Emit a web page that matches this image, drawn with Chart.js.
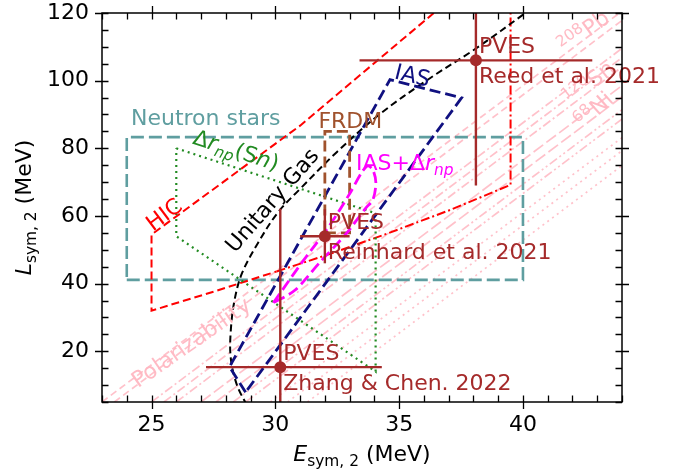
<!DOCTYPE html>
<html>
<head>
<meta charset="utf-8">
<script src="https://cdn.jsdelivr.net/npm/chart.js@4/dist/chart.umd.min.js"></script>
<style>
  html, body { margin: 0; padding: 0; background: #ffffff; }
  #wrap { width: 689px; height: 469px; }
</style>
</head>
<body>
<div id="wrap"><canvas id="c" width="689" height="469"></canvas></div>
<script>
// ---- axis ranges and ticks ----
const xRange = [23, 44];
const yRange = [5, 120];
const xTicks = [25, 30, 35, 40];
const yTicks = [20, 40, 60, 80, 100, 120];
const xMinorStep = 1;
const yMinorStep = 5;

// ---- constraint regions (Esym in MeV, L in MeV) ----
const nsE = [24, 40, 40, 24, 24];
const nsL = [41.1, 41.1, 83.3, 83.3, 41.1];

const hicDashE = [36.4, 31.0, 25.0, 25.0, 27.5, 30.05];
const hicDashL = [120, 86.7, 54.5, 32.0, 37.6, 43.6];
const hicDashDotE = [30.05, 32.3, 34.56, 37.0, 39.5, 39.5];
const hicDashDotL = [43.6, 49.0, 54.9, 61.6, 69.2, 120];

const unitaryE = [28.85, 28.45, 28.2, 28.2, 28.35, 28.65, 29.3, 30.1, 31.0, 32.5, 34.2, 36.2, 38.1, 40.1];
const unitaryL = [4, 10, 18, 26, 35, 43, 52, 61, 68, 79, 90, 100.5, 109.5, 120];

const snE = [26.0, 34.05, 34.05, 26.0, 26.0];
const snL = [80.0, 60.8, 14.0, 54.0, 80.0];

const iasE = [28.8, 28.15, 34.63, 37.52, 28.8];
const iasL = [7.9, 15.4, 100.3, 94.9, 7.9];

const frdmE = [32.0, 33.0, 33.0, 32.0, 32.0];
const frdmL = [55.0, 55.0, 85.0, 85.0, 55.0];

const iasRnpE = [29.92, 31.01, 32.21, 33.02, 33.50, 33.74, 33.94, 34.06, 33.94, 33.66, 32.82, 31.81, 30.80, 29.92];
const iasRnpL = [34.3, 45.6, 57.4, 66.8, 73.0, 74.8, 73.6, 69.8, 64.8, 62.4, 54.4, 46.4, 38.1, 34.3];

// dipole polarizability bounds (208Pb, 120Sn, 68Ni): each line given by two end points
const polE = [[23.0, 43.9], [23.5, 44.4], [25.0, 45.9], [25.5, 46.4], [26.0, 46.9], [27.0, 47.9],
              [27.6, 48.5], [28.3, 49.2], [28.8, 49.7], [29.8, 50.7], [30.5, 51.4], [31.3, 52.2]];
const polL = [[5, 120], [5, 120], [5, 120], [5, 120], [5, 120], [5, 120],
              [5, 120], [5, 120], [5, 120], [5, 120], [5, 120], [5, 120]];
const polStyle = ['dash', 'dash', 'dashdot', 'dashdot', 'dashdot', 'longdash',
                  'longdash', 'dashdotdot', 'dashdotdot', 'dot', 'dot', 'dot'];

// ---- PVES measurements ----
const pvesNames = ['Reed et al. 2021', 'Reinhard et al. 2021', 'Zhang & Chen. 2022'];
const pvesE = [38.1, 32.0, 30.2];
const pvesEMinus = [4.7, 1.0, 3.0];
const pvesEPlus = [4.7, 1.0, 4.1];
const pvesL = [106, 54, 15.3];
const pvesLMinus = [37, 8, 41.5];
const pvesLPlus = [37, 8, 46.8];

// ---- colours ----
const C = {
  ns: '#5f9ea0', hic: '#ff0000', ug: '#000000', sn: '#228b22', ias: '#101080',
  frdm: '#a0522d', iasRnp: '#ff00ff', pol: 'rgba(255,182,193,0.85)', polText: 'rgba(255,182,193,0.95)', pves: '#a52a2a'
};

const dashes = {
  dash: [7, 4], longdash: [12, 4], dashdot: [9, 3, 2, 3],
  dashdotdot: [9, 3, 2, 3, 2, 3], dot: [2, 4]
};

function series(xs, ys) { return xs.map((x, i) => ({ x: x, y: ys[i] })); }

function lineSet(xs, ys, color, width, dash, extra) {
  return Object.assign({
    data: series(xs, ys), showLine: true, fill: false, pointRadius: 0,
    borderColor: color, backgroundColor: color, borderWidth: width, borderDash: dash || [],
    tension: 0, borderCapStyle: 'butt', borderJoinStyle: 'miter'
  }, extra || {});
}

const datasets = [];
// polarizability lines go underneath everything else
polE.forEach((pe, i) => {
  datasets.push(lineSet(pe, polL[i], C.pol, 1.7, dashes[polStyle[i]]));
});
datasets.push(lineSet(nsE, nsL, C.ns, 2.6, [13, 5]));
datasets.push(lineSet(hicDashE, hicDashL, C.hic, 2, [8, 4]));
datasets.push(lineSet(hicDashDotE, hicDashDotL, C.hic, 2, [9, 3, 2, 3]));
datasets.push(lineSet(snE, snL, C.sn, 2.2, [2, 4]));
datasets.push(lineSet(unitaryE, unitaryL, C.ug, 2, [7, 4], { tension: 0.35 }));
datasets.push(lineSet(iasE, iasL, C.ias, 2.8, [11, 5]));
datasets.push(lineSet(frdmE, frdmL, C.frdm, 2.8, [11, 5]));
datasets.push(lineSet(iasRnpE, iasRnpL, C.iasRnp, 2.8, [11, 5], { tension: 0.3 }));
// PVES error bars and central points
pvesE.forEach((e, i) => {
  datasets.push(lineSet([e - pvesEMinus[i], e + pvesEPlus[i]], [pvesL[i], pvesL[i]], C.pves, 2.4));
  datasets.push(lineSet([e, e], [pvesL[i] - pvesLMinus[i], pvesL[i] + pvesLPlus[i]], C.pves, 2.4));
  datasets.push({
    data: [{ x: e, y: pvesL[i] }], showLine: false, pointRadius: 6, pointHoverRadius: 6,
    pointBackgroundColor: C.pves, pointBorderColor: C.pves, borderWidth: 0
  });
});
const N = datasets.length;
datasets.forEach((d, i) => { d.order = N - i; });

// ---- text helpers ----
const FONT = '"DejaVu Sans", "Liberation Sans", sans-serif';

function richWidth(ctx, parts, size) {
  let w = 0;
  parts.forEach(p => {
    const s = (p.sub || p.sup) ? size * 0.7 : size;
    ctx.font = (p.it ? 'italic ' : '') + s + 'px ' + FONT;
    w += ctx.measureText(p.t).width;
  });
  return w;
}

function drawRich(ctx, parts, x, y, size, color, align, rot) {
  ctx.save();
  ctx.translate(x, y);
  ctx.rotate((rot || 0) * Math.PI / 180);
  ctx.fillStyle = color;
  ctx.textBaseline = 'alphabetic';
  ctx.textAlign = 'left';
  const w = richWidth(ctx, parts, size);
  let cx = align === 'center' ? -w / 2 : (align === 'right' ? -w : 0);
  const dy = align === 'center' ? size * 0.36 : 0;
  parts.forEach(p => {
    const s = (p.sub || p.sup) ? size * 0.7 : size;
    ctx.font = (p.it ? 'italic ' : '') + s + 'px ' + FONT;
    const off = p.sub ? size * 0.22 : (p.sup ? -size * 0.38 : 0);
    ctx.fillText(p.t, cx, dy + off);
    cx += ctx.measureText(p.t).width;
  });
  ctx.restore();
}

const T = s => [{ t: s }];

// annotation texts, anchored in data coordinates
const annotations = [
  { parts: T('Neutron stars'), e: 24.17, l: 86.95, color: C.ns, align: 'left', rot: 0 },
  { parts: T('FRDM'), e: 31.74, l: 85.97, color: C.frdm, align: 'left', rot: 0 },
  { parts: [{ t: 'IAS+Δ' }, { t: 'r', it: true }, { t: 'np', it: true, sub: true }], e: 33.26, l: 73.6, color: C.iasRnp, align: 'left', rot: 0 },
  { parts: T('IAS'), e: 35.55, l: 101.7, color: C.ias, align: 'center', rot: 14 },
  { parts: T('Unitary Gas'), e: 29.84, l: 64.8, color: C.ug, align: 'center', rot: -49 },
  { parts: T('HIC'), e: 25.49, l: 60.6, color: C.hic, align: 'center', rot: -37 },
  { parts: [{ t: 'Δ' }, { t: 'r', it: true }, { t: 'np', it: true, sub: true }, { t: '(S' }, { t: 'n', it: true }, { t: ')' }], e: 28.43, l: 79.6, color: C.sn, align: 'center', rot: 18 },
  { parts: T('Polarizability'), e: 26.58, l: 22.8, color: C.polText, align: 'center', rot: -35 },
  { parts: [{ t: '208', sup: true }, { t: 'Pb' }], e: 42.45, l: 114.6, color: C.polText, align: 'center', rot: -36 },
  { parts: [{ t: '120', sup: true }, { t: 'Sn' }], e: 42.65, l: 99.5, color: C.polText, align: 'center', rot: -38 },
  { parts: [{ t: '68', sup: true }, { t: 'Ni' }], e: 42.85, l: 91.5, color: C.polText, align: 'center', rot: -42 }
];

const frame = {
  id: 'frame',
  afterDatasetsDraw(chart) {
    const ctx = chart.ctx;
    const xs = chart.scales.x, ys = chart.scales.y;
    const a = chart.chartArea;

    // annotations
    annotations.forEach(an => {
      drawRich(ctx, an.parts, xs.getPixelForValue(an.e), ys.getPixelForValue(an.l), 22, an.color, an.align, an.rot);
    });
    // PVES labels next to each measurement
    pvesE.forEach((e, i) => {
      const px = xs.getPixelForValue(e) + 3;
      const py = ys.getPixelForValue(pvesL[i]);
      drawRich(ctx, T('PVES'), px, py - 7, 22, C.pves, 'left', 0);
      drawRich(ctx, T(pvesNames[i]), px, py + 23, 22, C.pves, 'left', 0);
    });

    // frame and ticks on all four sides
    ctx.save();
    ctx.strokeStyle = '#000';
    ctx.lineWidth = 1.5;
    ctx.strokeRect(a.left, a.top, a.right - a.left, a.bottom - a.top);
    ctx.lineWidth = 1.3;
    ctx.beginPath();
    for (let v = Math.ceil(xRange[0]); v <= xRange[1]; v += xMinorStep) {
      const p = Math.round(xs.getPixelForValue(v)) + 0.5;
      const major = xTicks.includes(v);
      const inn = 6.5, out = major ? 7 : 0;
      ctx.moveTo(p, a.bottom + out); ctx.lineTo(p, a.bottom - inn);
      ctx.moveTo(p, a.top - out); ctx.lineTo(p, a.top + inn);
    }
    for (let v = Math.ceil(yRange[0] / yMinorStep) * yMinorStep; v <= yRange[1]; v += yMinorStep) {
      const p = Math.round(ys.getPixelForValue(v)) + 0.5;
      const major = yTicks.includes(v);
      const inn = 6.5, out = major ? 7 : 0;
      ctx.moveTo(a.left - out, p); ctx.lineTo(a.left + inn, p);
      ctx.moveTo(a.right + out, p); ctx.lineTo(a.right - inn, p);
    }
    ctx.stroke();
    ctx.restore();

    // axis titles
    const cxm = (a.left + a.right) / 2;
    const xt = [{ t: 'E', it: true }, { t: 'sym, 2', sub: true }, { t: ' (MeV)' }];
    drawRich(ctx, xt, cxm, 453, 22, '#000', 'center', 0);
    const yt = [{ t: 'L', it: true }, { t: 'sym, 2', sub: true }, { t: ' (MeV)' }];
    ctx.save();
    const cym = (a.top + a.bottom) / 2;
    ctx.translate(23, cym);
    ctx.rotate(-Math.PI / 2);
    drawRich(ctx, yt, 0, 0, 22, '#000', 'center', 0);
    ctx.restore();
  }
};

new Chart(document.getElementById('c'), {
  type: 'scatter',
  data: { datasets: datasets },
  options: {
    responsive: false,
    animation: false,
    devicePixelRatio: 1,
    layout: { padding: { left: 0, right: 67, top: 13, bottom: 0 } },
    plugins: { legend: { display: false }, tooltip: { enabled: false } },
    scales: {
      x: {
        type: 'linear', min: xRange[0], max: xRange[1],
        grid: { display: false, drawTicks: false },
        border: { display: false },
        ticks: { font: { family: FONT, size: 22 }, color: '#000', padding: 10, maxRotation: 0 },
        afterBuildTicks: s => { s.ticks = xTicks.map(v => ({ value: v })); },
        afterFit: s => { s.height = 67; s.paddingLeft = 0; s.paddingRight = 0; }
      },
      y: {
        type: 'linear', min: yRange[0], max: yRange[1],
        grid: { display: false, drawTicks: false },
        border: { display: false },
        ticks: { font: { family: FONT, size: 22 }, color: '#000', padding: 13 },
        afterBuildTicks: s => { s.ticks = yTicks.map(v => ({ value: v })); },
        afterFit: s => { s.width = 102; s.paddingTop = 0; s.paddingBottom = 0; }
      }
    }
  },
  plugins: [frame]
});
</script>
</body>
</html>
